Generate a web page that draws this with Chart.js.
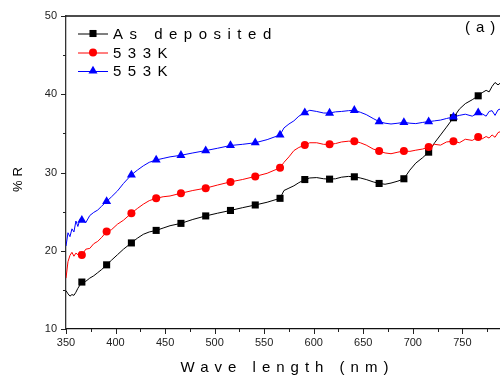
<!DOCTYPE html>
<html><head><meta charset="utf-8">
<script src="https://cdn.jsdelivr.net/npm/chart.js@4/dist/chart.umd.min.js"></script>
<style>html,body{margin:0;padding:0;background:#fff;} canvas{display:block;}</style>
</head><body>
<canvas id="c" width="500" height="377"></canvas>
<script>
// ---- data ----
const wavelengths = [350,352,354,356,358,360,362,364,366,370,374,378,382,386,391,396,402,408,416,422,428,434,441,448,455,466,478,491,503,516,528,541,553,566,570,575,580,585,591,596,603,610,616,622,628,635,641,647,653,660,666,672,678,685,691,697,703,710,716,722,728,734,741,747,753,760,766,770,774,777,780,783,786,788];
const asDeposited = [14.9,14.5,14.2,14.4,14.3,14.7,15.2,15.6,16.0,16.1,16.5,16.8,17.2,17.6,18.2,18.8,19.5,20.2,21.0,21.6,22.1,22.4,22.6,22.9,23.2,23.5,24.0,24.45,24.8,25.15,25.5,25.85,26.2,26.7,27.7,28.0,28.3,28.7,29.1,29.3,29.35,29.2,29.15,29.2,29.4,29.5,29.45,29.3,29.1,28.8,28.6,28.5,28.65,28.9,29.2,30.3,31.2,31.9,32.6,33.8,34.8,35.8,37.0,38.1,38.8,39.3,39.8,40.2,40.5,40.3,41.0,41.5,41.2,41.4];
const annealed533K = [16.5,18.6,19.4,19.8,19.3,19.7,19.5,19.9,19.45,20.2,20.3,20.9,21.2,21.7,22.45,22.7,23.4,23.9,24.8,25.4,25.95,26.4,26.7,26.9,27.0,27.35,27.7,28.0,28.4,28.8,29.1,29.5,29.9,30.6,31.3,32.0,32.8,33.2,33.5,33.8,33.8,33.6,33.6,33.7,33.9,34.0,34.0,33.8,33.5,33.0,32.75,32.5,32.4,32.6,32.75,32.7,32.85,33.0,33.25,33.6,33.5,33.9,34.0,33.8,34.25,34.1,34.55,34.3,34.6,34.4,34.8,34.5,35.1,35.2];
const annealed553K = [20.6,22.3,21.8,22.8,22.4,23.8,23.1,24.0,23.9,23.6,24.5,24.9,25.2,25.7,26.3,26.9,27.65,28.6,29.7,30.3,30.85,31.3,31.6,31.8,32.0,32.2,32.5,32.8,33.1,33.45,33.6,33.8,34.2,34.8,35.7,36.2,36.6,37.2,37.65,37.95,37.8,37.6,37.6,37.75,37.8,37.9,37.95,37.7,37.4,36.9,36.5,36.3,36.2,36.3,36.4,36.3,36.25,36.4,36.5,36.6,36.7,36.9,37.1,37.3,37.45,37.2,37.65,37.5,37.2,37.8,37.9,37.3,38.0,38.1];
const markerWavelengths = [366,391,416,441,466,491,516,541,566,591,616,641,666,691,716,741,766];
const seriesNames = ['As deposited','533K','553K'];
const xTickLabels = [350,400,450,500,550,600,650,700,750];
const xMinorTicks = [375,425,475,525,575,625,675,725,775];
const yTickLabels = [10,20,30,40,50];
const yMinorTicks = [15,25,35,45];
const xTitle = 'Wave length (nm)';
const yTitle = '%R';
const panelLabel = '(a)';

const markerSet = new Set(markerWavelengths);
const FONT = "Arial, 'Liberation Sans', sans-serif";

function mk(values, label, color, style, radius, order) {
  return {
    label, order,
    data: wavelengths.map((w, i) => ({x: w, y: values[i]})),
    borderColor: color, backgroundColor: color,
    borderWidth: 1, tension: 0,
    pointStyle: style,
    pointRadius: c => (c.raw && markerSet.has(c.raw.x)) ? radius : 0,
    pointHoverRadius: 0,
    pointBackgroundColor: color, pointBorderColor: color, pointBorderWidth: 0,
    _legendR: radius
  };
}

function drawMarker(ctx, style, x, y, r, color) {
  ctx.save();
  ctx.fillStyle = color;
  ctx.beginPath();
  if (style === 'rect') {
    const s = Math.SQRT1_2 * r;
    ctx.rect(x - s, y - s, 2 * s, 2 * s);
  } else if (style === 'circle') {
    ctx.arc(x, y, r, 0, Math.PI * 2);
  } else {
    let a = 0;
    ctx.moveTo(x + Math.sin(a) * r, y - Math.cos(a) * r);
    a += 2 * Math.PI / 3;
    ctx.lineTo(x + Math.sin(a) * r, y - Math.cos(a) * r);
    a += 2 * Math.PI / 3;
    ctx.lineTo(x + Math.sin(a) * r, y - Math.cos(a) * r);
  }
  ctx.closePath();
  ctx.fill();
  ctx.restore();
}

const decor = {
  id: 'decor',
  afterDraw(chart) {
    const ctx = chart.ctx, a = chart.chartArea;
    const xs = chart.scales.x, ys = chart.scales.y;
    ctx.save();
    // top frame line
    ctx.strokeStyle = '#111'; ctx.lineWidth = 1.3;
    ctx.beginPath(); ctx.moveTo(a.left, a.top); ctx.lineTo(a.right, a.top); ctx.stroke();
    // ticks
    ctx.lineWidth = 1;
    ctx.strokeStyle = '#222';
    ctx.beginPath();
    xTickLabels.forEach(v => { const p = Math.round(xs.getPixelForValue(v)) + 0.5; ctx.moveTo(p, a.bottom); ctx.lineTo(p, a.bottom + 5); });
    xMinorTicks.forEach(v => { const p = Math.round(xs.getPixelForValue(v)) + 0.5; ctx.moveTo(p, a.bottom); ctx.lineTo(p, a.bottom + 3); });
    yTickLabels.forEach(v => { const p = Math.round(ys.getPixelForValue(v)) + 0.5; ctx.moveTo(a.left, p); ctx.lineTo(a.left - 5, p); });
    yMinorTicks.forEach(v => { const p = Math.round(ys.getPixelForValue(v)) + 0.5; ctx.moveTo(a.left, p); ctx.lineTo(a.left - 3, p); });
    ctx.stroke();

    // legend
    ctx.fillStyle = '#000';
    ctx.font = '15px ' + FONT;
    ctx.textBaseline = 'middle';
    ctx.textAlign = 'left';
    ctx.letterSpacing = '6.5px';
    const rows = [33.5, 52.5, 71];
    chart.data.datasets.forEach((ds, i) => {
      const y = rows[i];
      ctx.strokeStyle = ds.borderColor; ctx.lineWidth = 1;
      ctx.beginPath(); ctx.moveTo(78, y + 0.5); ctx.lineTo(108, y + 0.5); ctx.stroke();
      drawMarker(ctx, ds.pointStyle, 93, y, ds._legendR, ds.borderColor);
      ctx.fillStyle = '#000';
      ctx.fillText(ds.label, 113, y + 1);
    });

    // panel label
    ctx.letterSpacing = '6px';
    ctx.textBaseline = 'alphabetic';
    ctx.fillText(panelLabel, 465, 32);

    // x title
    ctx.textAlign = 'center';
    ctx.fillText(xTitle, 287.5, 372);

    // y title
    ctx.save();
    ctx.translate(21.5, 179.5);
    ctx.rotate(-Math.PI / 2);
    ctx.font = '13px ' + FONT;
    ctx.letterSpacing = '4px';
    ctx.textAlign = 'center';
    ctx.fillText(yTitle, 2, 0);
    ctx.restore();

    ctx.restore();
  }
};

const datasets = [
  mk(asDeposited, seriesNames[0], '#000000', 'rect', 5, 3),
  mk(annealed533K, seriesNames[1], '#ff0000', 'circle', 4, 2),
  mk(annealed553K, seriesNames[2], '#0000ff', 'triangle', 5.2, 1)
];

new Chart(document.getElementById('c'), {
  type: 'line',
  data: { datasets },
  options: {
    animation: false, responsive: false, devicePixelRatio: 1,
    layout: { padding: { top: 16, right: 0, left: 0, bottom: 0 } },
    plugins: { legend: { display: false }, tooltip: { enabled: false } },
    scales: {
      x: {
        type: 'linear', min: 350, max: 788,
        afterFit: s => { s.height = 48; },
        afterBuildTicks: s => { s.ticks = xTickLabels.map(v => ({ value: v })); },
        ticks: { font: { family: FONT, size: 11 }, color: '#222', padding: 7, maxRotation: 0, autoSkip: false },
        grid: { display: true, drawOnChartArea: false, drawTicks: false },
        border: { display: true, color: '#111', width: 1.3 }
      },
      y: {
        type: 'linear', min: 10, max: 50,
        afterFit: s => { s.width = 66; },
        afterBuildTicks: s => { s.ticks = yTickLabels.map(v => ({ value: v })); },
        ticks: { font: { family: FONT, size: 11 }, color: '#222', padding: 9, autoSkip: false },
        grid: { display: true, drawOnChartArea: false, drawTicks: false },
        border: { display: true, color: '#333', width: 1.3 }
      }
    }
  },
  plugins: [decor]
});
</script>
</body></html>
